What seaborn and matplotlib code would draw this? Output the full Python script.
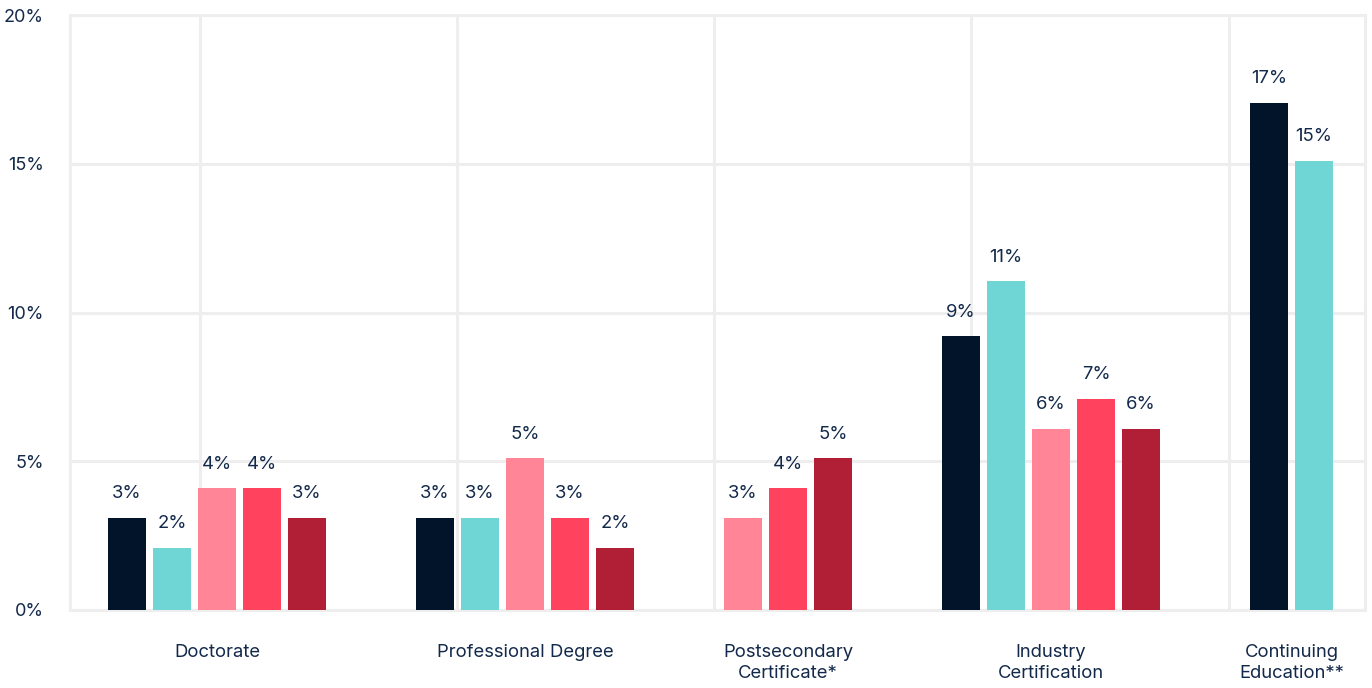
import numpy as np
import pandas as pd
import matplotlib
matplotlib.use('Agg')
import matplotlib.pyplot as plt
import seaborn as sns

# Chart data (percent of respondents)
categories = ['Doctorate', 'Professional Degree', 'Postsecondary\nCertificate*',
              'Industry\nCertification', 'Continuing\nEducation**']
series_names = ['Group 1', 'Group 2', 'Group 3', 'Group 4', 'Group 5']
group_1 = [3.1, 3.1, None, 9.2, 17.05]
group_2 = [2.1, 3.1, None, 11.05, 15.1]
group_3 = [4.1, 5.1, 3.1, 6.1, None]
group_4 = [4.1, 3.1, 4.1, 7.1, None]
group_5 = [3.1, 2.1, 5.1, 6.1, None]
series_values = [group_1, group_2, group_3, group_4, group_5]
y_ticks = [0, 5, 10, 15, 20]

# Style
colors = ['#021429', '#6fd6d5', '#ff8597', '#ff435f', '#b01f36']
TEXT = '#13294b'
GRID = '#eeeeee'
W, H = 1372, 688

# layout in pixel units
BAR_W = 38
BAR_STEP = 45
GROUP_GAP = 90
FIRST_LEFT = 108
X_LEFT, X_RIGHT = 70, 1365
GRID_X = [200, 457, 714, 971, 1229]

sns.set_theme(style='white')
plt.rcParams['font.family'] = ['Inter', 'DejaVu Sans']

fig = plt.figure(figsize=(W / 100, H / 100), dpi=100)
ax = fig.add_axes([X_LEFT / W, 1 - 610 / H, (X_RIGHT - X_LEFT) / W, (610 - 15) / H])

# Build one row per visible bar, bars packed within each category
rows = []
centers = []
left = FIRST_LEFT
for ci, cat in enumerate(categories):
    xs = []
    for name, vals in zip(series_names, series_values):
        v = vals[ci]
        if v is None:
            continue
        x = left + BAR_W / 2
        rows.append(dict(category=cat, series=name, value=v, pos=x))
        xs.append(x)
        left += BAR_STEP
    centers.append((xs[0] + xs[-1]) / 2)
    left += GROUP_GAP - (BAR_STEP - BAR_W)

df = pd.DataFrame(rows)

sns.barplot(data=df, x='pos', y='value', hue='series', hue_order=series_names,
            palette=colors, native_scale=True, dodge=False,
            width=BAR_W / BAR_STEP, legend=False, errorbar=None,
            saturation=1, linewidth=0, ax=ax, zorder=3)

# value labels
for _, r in df.iterrows():
    ax.annotate(f"{round(r['value']):.0f}%", (r['pos'], r['value']),
                xytext=(0, 24 * 0.72), textcoords='offset points',
                ha='center', va='center', fontsize=13.3, color=TEXT)

# category labels
for cx, cat in zip(centers, categories):
    ax.annotate(cat, (cx, 0), xycoords=('data', 'axes fraction'),
                xytext=(0, -34 * 0.72), textcoords='offset points',
                ha='center', va='top', fontsize=13.3, color=TEXT,
                linespacing=1.27)

ax.set_xlim(X_LEFT, X_RIGHT)
ax.set_ylim(0, 20)
ax.set_xticks(GRID_X)
ax.set_xticklabels([])
ax.set_yticks(y_ticks)
ax.set_yticklabels([f'{t}%' for t in y_ticks])
ax.set_xlabel('')
ax.set_ylabel('')
ax.tick_params(axis='both', length=0)
ax.tick_params(axis='y', pad=26 * 0.72, labelsize=13, labelcolor=TEXT)
ax.grid(True, color=GRID, linewidth=2.2)
ax.set_axisbelow(True)
for s in ax.spines.values():
    s.set_visible(True)
    s.set_color(GRID)
    s.set_linewidth(2.2)

fig.savefig('out.png', dpi=100)
